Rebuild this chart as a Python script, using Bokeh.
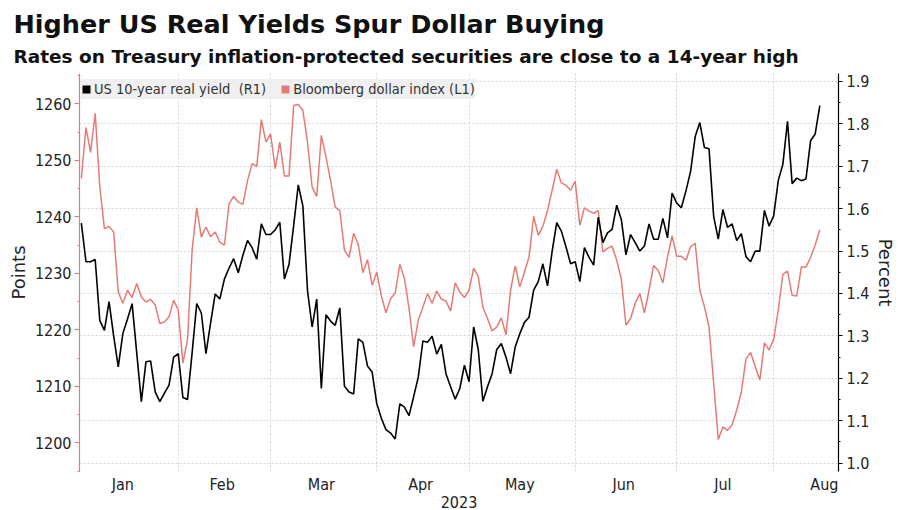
import numpy as np
import pandas as pd
from bokeh.plotting import figure
from bokeh.models import (LinearAxis, Range1d, FixedTicker, SingleIntervalTicker,
                          PrintfTickFormatter, Legend, LegendItem, Title)
from bokeh.embed import file_html
from bokeh.resources import INLINE

# daily (weekday) closes, 2023-01-03 .. 2023-08-15
first_day = "2023-01-03"
real_yield = [  # US 10-year real yield, %
    1.566, 1.475, 1.475, 1.480, 1.336, 1.313, 1.381, 1.300, 1.227, 1.306,
    1.340, 1.376, 1.260, 1.145, 1.239, 1.241, 1.168, 1.145, 1.165, 1.184,
    1.250, 1.258, 1.155, 1.150, 1.260, 1.376, 1.354, 1.258, 1.330, 1.399,
    1.387, 1.434, 1.460, 1.482, 1.449, 1.490, 1.525, 1.508, 1.481, 1.564,
    1.539, 1.539, 1.550, 1.568, 1.434, 1.469, 1.560, 1.656, 1.606, 1.407,
    1.321, 1.387, 1.176, 1.350, 1.335, 1.325, 1.366, 1.182, 1.168, 1.163,
    1.293, 1.285, 1.229, 1.215, 1.141, 1.106, 1.079, 1.071, 1.057, 1.140,
    1.132, 1.112, 1.157, 1.203, 1.288, 1.285, 1.299, 1.257, 1.280, 1.211,
    1.180, 1.151, 1.176, 1.231, 1.192, 1.321, 1.268, 1.146, 1.180, 1.211,
    1.268, 1.282, 1.250, 1.211, 1.274, 1.305, 1.332, 1.344, 1.408, 1.428,
    1.470, 1.418, 1.499, 1.567, 1.547, 1.510, 1.470, 1.475, 1.428, 1.508,
    1.485, 1.467, 1.580, 1.520, 1.543, 1.551, 1.608, 1.574, 1.491, 1.539,
    1.520, 1.500, 1.512, 1.564, 1.528, 1.528, 1.577, 1.531, 1.637, 1.613,
    1.602, 1.642, 1.688, 1.770, 1.803, 1.744, 1.741, 1.582, 1.528, 1.598,
    1.556, 1.564, 1.525, 1.541, 1.487, 1.475, 1.500, 1.500, 1.596, 1.559,
    1.583, 1.666, 1.705, 1.806, 1.659, 1.672, 1.666, 1.670, 1.760, 1.776, 1.843,
]
dollar_index = [  # Bloomberg dollar index, points
    1246.8, 1255.8, 1251.4, 1258.3, 1245.3, 1237.9, 1238.3, 1237.3, 1226.7, 1224.7,
    1227.0, 1225.7, 1228.2, 1225.8, 1224.9, 1225.4, 1224.4, 1221.1, 1221.4, 1222.3,
    1225.2, 1223.5, 1214.1, 1218.2, 1234.1, 1241.6, 1236.4, 1238.2, 1236.5, 1237.3,
    1235.5, 1235.0, 1242.3, 1243.6, 1242.6, 1242.2, 1246.4, 1249.4, 1248.9, 1257.2,
    1253.2, 1254.7, 1248.5, 1253.2, 1247.2, 1247.2, 1259.7, 1259.9, 1258.8, 1253.2,
    1245.3, 1243.6, 1254.4, 1250.6, 1246.4, 1241.7, 1241.1, 1234.1, 1232.8, 1237.1,
    1235.1, 1230.1, 1232.4, 1227.9, 1230.2, 1226.0, 1223.0, 1225.5, 1226.5, 1231.6,
    1229.1, 1223.8, 1217.0, 1221.7, 1224.0, 1226.4, 1224.7, 1226.9, 1225.4, 1225.1,
    1223.3, 1228.3, 1226.7, 1225.7, 1227.0, 1230.9, 1229.4, 1224.0, 1222.0, 1219.8,
    1220.5, 1222.1, 1219.1, 1227.0, 1231.3, 1227.6, 1230.2, 1232.9, 1240.1, 1236.7,
    1238.3, 1241.1, 1244.7, 1248.4, 1246.0, 1245.6, 1244.7, 1246.3, 1238.5, 1241.6,
    1241.0, 1240.6, 1241.1, 1233.8, 1234.4, 1234.8, 1232.3, 1228.9, 1220.8, 1222.0,
    1224.7, 1226.4, 1223.0, 1227.0, 1231.4, 1230.5, 1228.3, 1232.9, 1236.6, 1233.0,
    1233.0, 1232.3, 1234.7, 1235.3, 1227.0, 1224.1, 1220.5, 1210.5, 1200.6, 1202.8,
    1202.2, 1203.2, 1205.8, 1209.0, 1214.8, 1216.0, 1213.5, 1211.1, 1217.7, 1216.4,
    1218.3, 1223.5, 1229.8, 1230.4, 1226.1, 1226.0, 1231.1, 1231.1, 1232.8, 1235.0, 1237.7,
]
months = ["Jan", "Feb", "Mar", "Apr", "May", "Jun", "Jul", "Aug"]
year_label = "2023"

PINK = "#e57b76"
TXT = "#222222"
NARROW = "DejaVu Sans Condensed"

# x = weekday count since 2023-01-02, so weekends leave no gaps
base = np.datetime64("2023-01-02")
dates = pd.bdate_range(first_day, periods=len(real_yield))
pos = np.busday_count(base, dates.values.astype("datetime64[D]")).astype(float)
mstarts = pd.date_range("2023-01-01", periods=len(months) + 1, freq="MS")
starts = np.busday_count(base, mstarts.values.astype("datetime64[D]")).astype(float)
mids = [float((a + b - 1) / 2) for a, b in zip(starts[:-1], starts[1:])]

p = figure(width=900, height=510, output_backend="svg", toolbar_location=None,
           x_range=Range1d(0.6, 165.05), y_range=Range1d(0.9804, 1.9186),
           y_axis_location="right",
           min_border_left=79, min_border_right=62, min_border_top=73, min_border_bottom=39)
p.outline_line_color = None
p.title_location = None
p.extra_y_ranges = {"points": Range1d(1194.92, 1265.36)}

pink_line = p.line(pos, dollar_index, y_range_name="points", color=PINK, line_width=1.5)
black_line = p.line(pos, real_yield, color="black", line_width=1.6)

# zero-size quads, only used for the square legend swatches
sq_black = p.quad(left=pos[:1], right=pos[:1], bottom=real_yield[:1], top=real_yield[:1],
                  fill_color="black", line_color=None)
sq_pink = p.quad(left=pos[:1], right=pos[:1], bottom=dollar_index[:1], top=dollar_index[:1],
                 y_range_name="points", fill_color=PINK, line_color=None)

# right axis (percent)
pct_ticker = SingleIntervalTicker(interval=0.1, num_minor_ticks=2)
right = p.right[0]
right.ticker = pct_ticker
right.formatter = PrintfTickFormatter(format="%.1f")
right.axis_label = "Percent"
right.axis_line_color = "black"
right.major_tick_line_color = "black"
right.minor_tick_line_color = "black"
right.major_tick_out = 4
right.major_tick_in = 0
right.minor_tick_out = 2
right.minor_tick_in = 0
right.major_label_standoff = 4
right.axis_label_standoff = 3

# left axis (points)
left = LinearAxis(y_range_name="points", axis_label="Points",
                  ticker=SingleIntervalTicker(interval=10, num_minor_ticks=2))
left.axis_line_color = PINK
left.major_tick_line_color = PINK
left.minor_tick_line_color = PINK
left.major_tick_out = 5
left.major_tick_in = 0
left.minor_tick_out = 2
left.minor_tick_in = 0
left.major_label_standoff = 3
left.axis_label_standoff = 3
p.add_layout(left, "left")

for ax in (left, right):
    ax.axis_line_width = 1.2
    ax.major_label_text_font = NARROW
    ax.major_label_text_font_size = "16px"
    ax.major_label_text_color = TXT
    ax.axis_label_text_font = "DejaVu Sans"
    ax.axis_label_text_font_size = "18px"
    ax.axis_label_text_font_style = "normal"
    ax.axis_label_text_color = TXT

# bottom axis: month names mid-month, grid lines at month starts
xa = p.xaxis[0]
xa.ticker = FixedTicker(ticks=mids)
xa.major_label_overrides = {m: name for m, name in zip(mids, months)}
xa.axis_line_color = None
xa.major_tick_line_color = None
xa.minor_tick_line_color = None
xa.major_tick_out = 0
xa.major_tick_in = 0
xa.major_label_standoff = 3
xa.major_label_text_font = NARROW
xa.major_label_text_font_size = "16px"
xa.major_label_text_color = TXT
xa.axis_label = year_label
xa.axis_label_standoff = -1
xa.axis_label_text_font = NARROW
xa.axis_label_text_font_size = "16px"
xa.axis_label_text_font_style = "normal"
xa.axis_label_text_color = TXT

p.xgrid.ticker = FixedTicker(ticks=[float(s) for s in starts])
p.ygrid.ticker = pct_ticker
for g in (p.xgrid, p.ygrid):
    g.grid_line_color = "#d2d2d2"
    g.grid_line_dash = "2 2"
    g.grid_line_width = 1

# titles (first added sits closest to the plot)
p.add_layout(Title(text="Rates on Treasury inflation-protected securities are close to a 14-year high",
                   text_font="DejaVu Sans", text_font_size="18.5px", text_font_style="bold",
                   text_color="#111111", align="left", offset=-66, standoff=13), "above")
p.add_layout(Title(text="Higher US Real Yields Spur Dollar Buying",
                   text_font="DejaVu Sans", text_font_size="25.5px", text_font_style="bold",
                   text_color="#111111", align="left", offset=-66, standoff=-3), "above")

# legend box: bottom-left corner given relative to the frame's bottom-left
legend = Legend(items=[LegendItem(label="US 10-year real yield  (R1)", renderers=[sq_black]),
                       LegendItem(label="Bloomberg dollar index (L1)", renderers=[sq_pink])],
                orientation="horizontal", location=(2, 372), margin=0, padding=5,
                spacing=14, label_standoff=3, glyph_width=10, glyph_height=10,
                label_height=20, background_fill_color="#eeeeee", background_fill_alpha=0.9,
                border_line_color=None, label_text_font=NARROW, label_text_font_size="14.5px",
                label_text_color="#333333")
p.add_layout(legend)

open("out.html", "w").write(file_html(p, INLINE))
